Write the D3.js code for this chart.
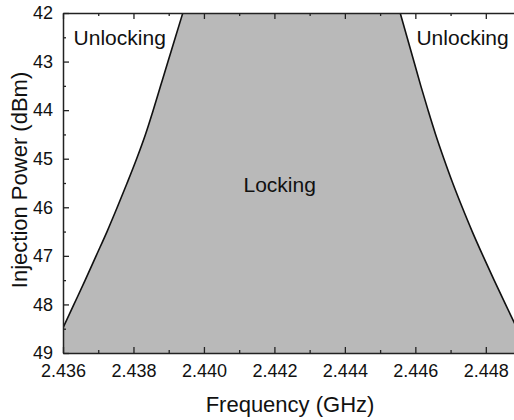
<!DOCTYPE html>
<html>
<head>
<meta charset="utf-8">
<script src="https://cdn.jsdelivr.net/npm/d3@7"></script>
<style>
  body { margin: 0; background: #fff; }
  text { font-family: "Liberation Sans", Arial, sans-serif; fill: #111; }
</style>
</head>
<body>
<div id="chart"></div>
<script>
// Injection power levels (dBm) and the locking boundary frequencies (GHz)
var power     = [42, 42.5, 43, 43.5, 44, 44.5, 45, 45.5, 46, 46.5, 47, 47.5, 48, 48.5, 49];
var leftFreq  = [2.43940, 2.43919, 2.43898, 2.43877, 2.43856, 2.43834, 2.43809, 2.43782,
                 2.43754, 2.43725, 2.43694, 2.43663, 2.43631, 2.43599, 2.43567];
var rightFreq = [2.445570, 2.445765, 2.445960, 2.446155, 2.446360, 2.446575, 2.446810, 2.447060,
                 2.447330, 2.447615, 2.447920, 2.448235, 2.448560, 2.448890, 2.449230];

var xTicks = [2.436, 2.438, 2.440, 2.442, 2.444, 2.446, 2.448];
var xMinor = [2.437, 2.439, 2.441, 2.443, 2.445, 2.447];
var yTicks = [42, 43, 44, 45, 46, 47, 48, 49];
var yMinor = [42.5, 43.5, 44.5, 45.5, 46.5, 47.5, 48.5];

var regionLabels = [
    {text: "Unlocking", f: 2.43761, p: 42.5},
    {text: "Unlocking", f: 2.44734, p: 42.5},
    {text: "Locking",   f: 2.44215, p: 45.54}
];

var data = power.map(function(p, i) {
    return {p: p, left: leftFreq[i], right: rightFreq[i]};
});

var width = 514, height = 420;
var margin = {top: 13, left: 63, bottom: 353};

var svg = d3.select("#chart")
  .append("svg")
    .attr("width", width)
    .attr("height", height);

var x = d3.scaleLinear()
    .domain([2.436, 2.4488])
    .range([margin.left, 514]);

var y = d3.scaleLinear()
    .domain([42, 49])
    .range([margin.top, margin.bottom]);

svg.append("clipPath")
    .attr("id", "clip")
  .append("rect")
    .attr("x", margin.left)
    .attr("y", margin.top)
    .attr("width", width - margin.left)
    .attr("height", margin.bottom - margin.top);

var plot = svg.append("g").attr("clip-path", "url(#clip)");

// Locking region
var area = d3.area()
    .y(function(d) { return y(d.p); })
    .x0(function(d) { return x(d.left); })
    .x1(function(d) { return x(d.right); })
    .curve(d3.curveMonotoneY);

plot.append("path")
    .datum(data)
    .attr("d", area)
    .attr("fill", "#b9b9b9");

// Boundary lines
["left", "right"].forEach(function(k) {
    var line = d3.line()
        .y(function(d) { return y(d.p); })
        .x(function(d) { return x(d[k]); })
        .curve(d3.curveMonotoneY);
    plot.append("path")
        .datum(data)
        .attr("d", line)
        .attr("fill", "none")
        .attr("stroke", "#111")
        .attr("stroke-width", 1.6);
});

// Axes with inward ticks
function styleAxis(g) {
    g.select(".domain").attr("stroke", "#222").attr("stroke-width", 1.5);
    g.selectAll(".tick line").attr("stroke", "#222").attr("stroke-width", 1.3);
}

var bottomAxis = svg.append("g")
    .attr("transform", `translate(0,${margin.bottom})`)
    .call(d3.axisBottom(x).tickValues(xTicks).tickSize(-6).tickSizeOuter(0)
        .tickFormat(d3.format(".3f")).tickPadding(11));
bottomAxis.call(styleAxis);
bottomAxis.selectAll("text").attr("font-size", 18).attr("dy", "0.71em");

svg.append("g")
    .attr("transform", `translate(0,${margin.bottom})`)
    .call(d3.axisBottom(x).tickValues(xMinor).tickSize(-3).tickSizeOuter(0).tickFormat(""))
    .call(styleAxis)
    .select(".domain").remove();

var topAxis = svg.append("g")
    .attr("transform", `translate(0,${margin.top})`)
    .call(d3.axisTop(x).tickValues(xTicks).tickSize(-6).tickSizeOuter(0).tickFormat(""));
topAxis.call(styleAxis);

svg.append("g")
    .attr("transform", `translate(0,${margin.top})`)
    .call(d3.axisTop(x).tickValues(xMinor).tickSize(-3).tickSizeOuter(0).tickFormat(""))
    .call(styleAxis)
    .select(".domain").remove();

var leftAxis = svg.append("g")
    .attr("transform", `translate(${margin.left},0)`)
    .call(d3.axisLeft(y).tickValues(yTicks).tickSize(-6).tickSizeOuter(0)
        .tickFormat(d3.format("d")).tickPadding(10));
leftAxis.call(styleAxis);
leftAxis.selectAll("text").attr("font-size", 18);

svg.append("g")
    .attr("transform", `translate(${margin.left},0)`)
    .call(d3.axisLeft(y).tickValues(yMinor).tickSize(-3).tickSizeOuter(0).tickFormat(""))
    .call(styleAxis)
    .select(".domain").remove();

// Region labels
svg.selectAll(".region")
    .data(regionLabels)
  .enter().append("text")
    .attr("class", "region")
    .attr("x", function(d) { return x(d.f); })
    .attr("y", function(d) { return y(d.p); })
    .attr("text-anchor", "middle")
    .attr("dy", "0.35em")
    .attr("font-size", 21)
    .text(function(d) { return d.text; });

// Axis titles
svg.append("text")
    .attr("x", 290)
    .attr("y", 412)
    .attr("text-anchor", "middle")
    .attr("font-size", 22)
    .text("Frequency (GHz)");

svg.append("text")
    .attr("transform", "translate(27,180) rotate(-90)")
    .attr("text-anchor", "middle")
    .attr("font-size", 22)
    .text("Injection Power (dBm)");
</script>
</body>
</html>
